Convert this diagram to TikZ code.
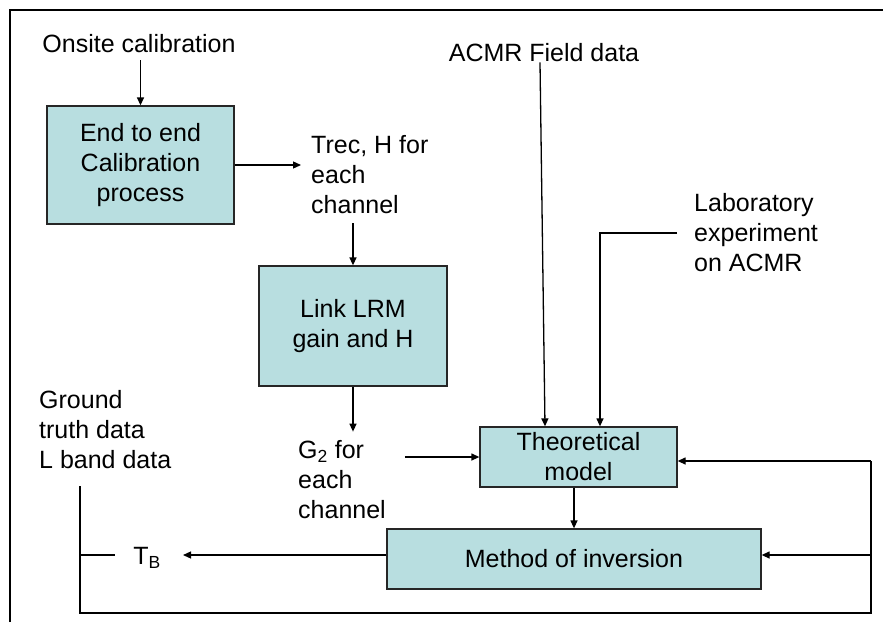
\documentclass[tikz,border=0pt]{standalone}
\usepackage{fontspec}
\setmainfont{Liberation Sans}
\usetikzlibrary{arrows.meta,calc}
\definecolor{boxfill}{RGB}{184,222,224}
\begin{document}
\begin{tikzpicture}[x=1pt,y=-1pt,
  every node/.style={font=\fontsize{25}{30}\selectfont, inner sep=0pt},
  procbox/.style={draw=black!85, line width=1.3pt, fill=boxfill, align=center},
  label/.style={align=left},
  link/.style={line width=1.3pt},
  arr/.style={link, -{Triangle[length=8pt,width=7pt]}}]
  \useasboundingbox (0,0) rectangle (883,622);
  % frame
  \draw[line width=2.2pt] (10,622) -- (10,10) -- (883,10);

  % process boxes
  \node[procbox, minimum width=187pt, minimum height=118pt] (calib) at (140.5,165)
    {End to end\\Calibration\\process};
  \node[procbox, minimum width=188pt, minimum height=120pt] (link) at (353,326)
    {Link LRM\\gain and H};
  \node[procbox, minimum width=197pt, minimum height=60pt] (theo) at (578.5,457)
    {Theoretical\\model};
  \node[procbox, minimum width=374pt, minimum height=60pt] (inv) at (574,559)
    {Method of inversion};

  % text labels
  \node (onsite) at (139,44) {Onsite calibration};
  \node[label, anchor=west] (trec) at (311,175) {Trec, H for\\each\\channel};
  \node[label, anchor=west] (gtwo) at (298,480) {G\textsubscript{2} for\\each\\channel};
  \node (acmr) at (544,53) {ACMR Field data};
  \node[label, anchor=west] (lab) at (694,233) {Laboratory\\experiment\\on ACMR};
  \node[label, anchor=west] (ground) at (39,430) {Ground\\truth data\\L band data};
  \node (tb) at (147,558) {T\textsubscript{B}};

  % free ends of the feedback lines
  \coordinate (gtop) at (80,486);
  \coordinate (gbot) at (80,613);
  \coordinate (rbot) at (871,613);
  \coordinate (rtheo) at (871,461);
  \coordinate (rinv) at (871,555);
  \coordinate (gmid) at (80,555);
  \coordinate (tbleft) at (115,555);
  \coordinate (tbtip) at (183,555);

  % connectors
  \draw[arr] ([yshift=-7pt]calib.north |- onsite.south) -- (calib.north);
  \draw[arr] (calib.east) -- ([xshift=-10pt]trec.west |- calib.east);
  \draw[arr] ([yshift=-9pt]link.north |- trec.south) -- (link.north);
  \draw[arr] (link.south) -- ([yshift=9pt]link.south |- gtwo.north);
  \draw[arr] ([xshift=19pt]gtwo.east |- theo.west) -- (theo.west);
  \draw[arr] ([xshift=-4pt]acmr.south) -- ([xshift=-33.5pt]theo.north);
  \draw[arr] ([xshift=-17pt]lab.west) -| ([xshift=21.5pt]theo.north);
  \draw[arr] (inv.north |- theo.south) -- (inv.north);
  \draw[link] (gtop) -- (gbot) -- (rbot) -- (rtheo);
  \draw[arr] (rtheo) -- (rtheo -| theo.east);
  \draw[arr] (rinv) -- (rinv -| inv.east);
  \draw[link] (gmid) -- (tbleft);
  \draw[arr] (inv.west |- rinv) -- (tbtip);
\end{tikzpicture}
\end{document}
